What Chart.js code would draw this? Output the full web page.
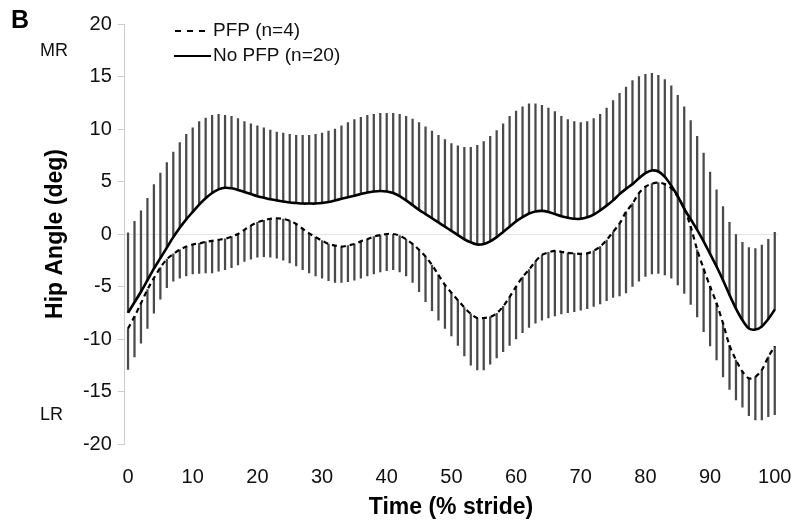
<!DOCTYPE html>
<html>
<head>
<meta charset="utf-8">
<script src="https://cdn.jsdelivr.net/npm/chart.js@4.4.1/dist/chart.umd.min.js"></script>
<style>
  html, body { margin: 0; padding: 0; background: #fff; }
  #wrap { width: 795px; height: 529px; }
</style>
</head>
<body>
<div id="wrap"><canvas id="hipChart" width="795" height="529"></canvas></div>
<script>
// Time points (% stride)
const stride = Array.from({ length: 101 }, (_, i) => i);

// No PFP (n=20): mean and mean + SD
const noPfpMean = [
  -7.5, -6.5, -5.5, -4.4, -3.3, -2.3, -1.3, -0.3, 0.6, 1.4,
  2.1, 2.8, 3.4, 3.9, 4.25, 4.4, 4.35, 4.2, 4.0, 3.8,
  3.6, 3.45, 3.3, 3.2, 3.1, 3.0, 2.95, 2.9, 2.9, 2.9,
  2.95, 3.05, 3.2, 3.35, 3.5, 3.65, 3.8, 3.95, 4.05, 4.1,
  4.05, 3.9, 3.6, 3.2, 2.75, 2.3, 1.9, 1.5, 1.1, 0.7,
  0.3, -0.1, -0.5, -0.8, -1.0, -0.95, -0.7, -0.3, 0.2, 0.7,
  1.2, 1.6, 1.95, 2.15, 2.2, 2.1, 1.9, 1.7, 1.55, 1.45,
  1.45, 1.6, 1.85, 2.25, 2.7, 3.2, 3.8, 4.3, 4.75, 5.3,
  5.8, 6.05, 5.95, 5.45, 4.6, 3.6, 2.4, 1.4, 0.4, -0.7,
  -1.9, -3.1, -4.4, -5.8, -7.1, -8.2, -9.0, -9.1, -8.8, -8.1,
  -7.2
];
const noPfpUpper = [
  0.1, 1.2, 2.2, 3.4, 4.7, 5.8, 6.8, 7.8, 8.7, 9.5,
  10.1, 10.7, 11.05, 11.3, 11.4, 11.3, 11.2, 11.0, 10.7, 10.5,
  10.3, 10.1, 9.9, 9.7, 9.6, 9.5, 9.4, 9.4, 9.4, 9.5,
  9.6, 9.8, 10.0, 10.3, 10.6, 10.9, 11.1, 11.3, 11.4, 11.5,
  11.5, 11.5, 11.4, 11.2, 10.95, 10.6, 10.2, 9.8, 9.4, 9.0,
  8.6, 8.4, 8.25, 8.25, 8.45, 8.8, 9.3, 9.85, 10.5, 11.2,
  11.7, 12.1, 12.4, 12.4, 12.25, 12.0, 11.65, 11.2, 10.9, 10.7,
  10.6, 10.7, 11.0, 11.4, 12.0, 12.7, 13.4, 14.0, 14.6, 15.0,
  15.2, 15.3, 15.1, 14.7, 14.1, 13.2, 12.1, 10.8, 9.3, 7.7,
  5.9, 4.2, 2.6, 1.1, 0.0, -0.8, -1.3, -1.4, -1.05, -0.5,
  0.15
];

// PFP (n=4): mean and mean - SD
const pfpMean = [
  -9.0, -7.85, -6.6, -5.3, -4.2, -3.2, -2.4, -1.9, -1.5, -1.2,
  -1.0, -0.9, -0.75, -0.65, -0.55, -0.45, -0.25, 0.0, 0.4, 0.8,
  1.1, 1.3, 1.45, 1.5, 1.43, 1.27, 0.95, 0.5, 0.06, -0.3,
  -0.63, -0.95, -1.1, -1.2, -1.1, -0.95, -0.7, -0.5, -0.25, -0.1,
  0.0, 0.0, -0.15, -0.5, -0.95, -1.5, -2.15, -2.95, -3.9, -4.85,
  -5.6, -6.3, -7.0, -7.6, -8.0, -8.0, -7.9, -7.55, -6.9, -6.0,
  -5.0, -4.1, -3.4, -2.6, -2.0, -1.75, -1.6, -1.7, -1.8, -1.85,
  -1.9, -1.85, -1.6, -1.2, -0.57, 0.2, 1.0, 2.1, 2.9, 3.9,
  4.5, 4.8, 4.9, 4.75, 4.35, 3.55, 2.45, 0.7, -1.5, -3.3,
  -5.0, -6.6, -8.5, -10.6, -12.0, -13.1, -13.75, -13.6, -12.95, -11.7,
  -10.7
];
const pfpLower = [
  -12.9, -11.7, -10.4, -9.0, -7.55, -6.2, -5.1, -4.5, -4.2, -4.0,
  -3.8, -3.75, -3.7, -3.7, -3.55, -3.4, -3.2, -2.95, -2.6, -2.4,
  -2.2, -2.15, -2.2, -2.3, -2.5, -2.75, -3.05, -3.4, -3.7, -4.0,
  -4.2, -4.45, -4.6, -4.6, -4.55, -4.4, -4.2, -4.0, -3.8, -3.6,
  -3.5, -3.4, -3.6, -4.0, -4.6, -5.5, -6.45, -7.3, -8.2, -9.0,
  -9.7, -10.6, -11.6, -12.5, -12.95, -12.95, -12.4, -11.8, -11.2, -10.6,
  -10.0, -9.4, -8.9, -8.5, -8.2, -8.0, -7.8, -7.6, -7.5, -7.4,
  -7.25, -7.1, -6.9, -6.65, -6.35, -6.05, -5.9, -5.6, -5.0, -4.5,
  -4.05, -3.8, -3.75, -3.9, -4.2, -4.85, -5.65, -6.7, -7.9, -9.3,
  -10.65, -12.0, -13.6, -14.8, -15.8, -16.5, -17.3, -17.7, -17.7, -17.4,
  -17.2
];

const xTicks = [0, 10, 20, 30, 40, 50, 60, 70, 80, 90, 100];
const yTicks = [-20, -15, -10, -5, 0, 5, 10, 15, 20];

const FONT = '"Liberation Sans", Arial, Helvetica, sans-serif';

// Extra text: panel letter, MR/LR, axis titles, legend
const annotations = {
  id: 'annotations',
  afterDraw(chart) {
    const ctx = chart.ctx;
    const area = chart.chartArea;
    ctx.save();
    ctx.fillStyle = '#000';
    ctx.textBaseline = 'alphabetic';
    ctx.textAlign = 'left';
    ctx.font = 'bold 25px ' + FONT;
    ctx.fillText('B', 11, 28);

    ctx.font = '18px ' + FONT;
    ctx.fillStyle = '#111';
    ctx.fillText('MR', 40, 56);
    ctx.fillText('LR', 40, 420);

    // axis titles
    ctx.fillStyle = '#000';
    ctx.font = 'bold 23px ' + FONT;
    ctx.textAlign = 'center';
    ctx.textBaseline = 'middle';
    ctx.fillText('Time (% stride)', 451, 508);
    ctx.save();
    ctx.translate(56, (area.top + area.bottom) / 2);
    ctx.rotate(-Math.PI / 2);
    ctx.fillText('Hip Angle (deg)', 0, 0);
    ctx.restore();

    // legend
    ctx.strokeStyle = '#000';
    ctx.lineWidth = 2;
    ctx.setLineDash([6, 6]);
    ctx.beginPath();
    ctx.moveTo(175, 31);
    ctx.lineTo(211, 31);
    ctx.stroke();
    ctx.setLineDash([]);
    ctx.lineWidth = 2.2;
    ctx.beginPath();
    ctx.moveTo(174, 56);
    ctx.lineTo(211, 56);
    ctx.stroke();

    ctx.font = '19px ' + FONT;
    ctx.textAlign = 'left';
    ctx.fillStyle = '#111';
    ctx.fillText('PFP (n=4)', 213, 31);
    ctx.fillText('No PFP (n=20)', 213, 56);
    ctx.restore();
  }
};

const config = {
  type: 'line',
  data: {
    datasets: [
      {
        label: 'PFP (n=4)',
        data: stride.map((s, i) => ({ x: s, y: pfpMean[i] })),
        borderColor: '#000',
        borderWidth: 2.2,
        borderDash: [5, 4],
        pointRadius: 0,
        tension: 0.3,
        order: 0
      },
      {
        label: 'No PFP (n=20)',
        data: stride.map((s, i) => ({ x: s, y: noPfpMean[i] })),
        borderColor: '#000',
        borderWidth: 2.6,
        pointRadius: 0,
        tension: 0.3,
        order: 0
      },
      {
        type: 'bar',
        label: 'PFP SD',
        data: stride.map((s, i) => ({ x: s, y: [pfpMean[i], pfpLower[i]] })),
        backgroundColor: '#4a4a4a',
        borderWidth: 0,
        barThickness: 1.6,
        grouped: false,
        order: 1
      },
      {
        type: 'bar',
        label: 'No PFP SD',
        data: stride.map((s, i) => ({ x: s, y: [noPfpMean[i], noPfpUpper[i]] })),
        backgroundColor: '#4a4a4a',
        borderWidth: 0,
        barThickness: 1.6,
        grouped: false,
        order: 1
      }
    ]
  },
  options: {
    responsive: false,
    animation: false,
    layout: { padding: { left: 0, right: 2, top: 24, bottom: 0 } },
    plugins: {
      legend: { display: false },
      tooltip: { enabled: false }
    },
    scales: {
      x: {
        type: 'linear',
        min: -0.5,
        max: 100.5,
        offset: false,
        afterBuildTicks: (s) => { s.ticks = xTicks.map(v => ({ value: v })); },
        afterFit: (s) => {
          s.height = 85;
          s.paddingLeft = 0;
          s.paddingRight = 17;
        },
        grid: { display: false, drawTicks: false },
        border: { display: false },
        ticks: {
          padding: 21,
          color: '#111',
          font: { family: FONT, size: 20 },
          maxRotation: 0,
          autoSkip: false
        }
      },
      y: {
        min: -20,
        max: 20,
        afterBuildTicks: (s) => { s.ticks = yTicks.map(v => ({ value: v })); },
        afterFit: (s) => { s.width = 124.8; },
        grid: {
          color: (c) => (c.tick && c.tick.value === 0 ? '#e4e4e4' : 'rgba(0,0,0,0)'),
          tickColor: '#cccccc',
          tickLength: 7,
          lineWidth: 1
        },
        border: { display: true, color: '#cccccc', width: 1 },
        ticks: {
          padding: 6,
          color: '#111',
          font: { family: FONT, size: 20 }
        }
      }
    }
  },
  plugins: [annotations]
};

const ctx = document.getElementById('hipChart').getContext('2d');
const hipChart = new Chart(ctx, config);
</script>
</body>
</html>
